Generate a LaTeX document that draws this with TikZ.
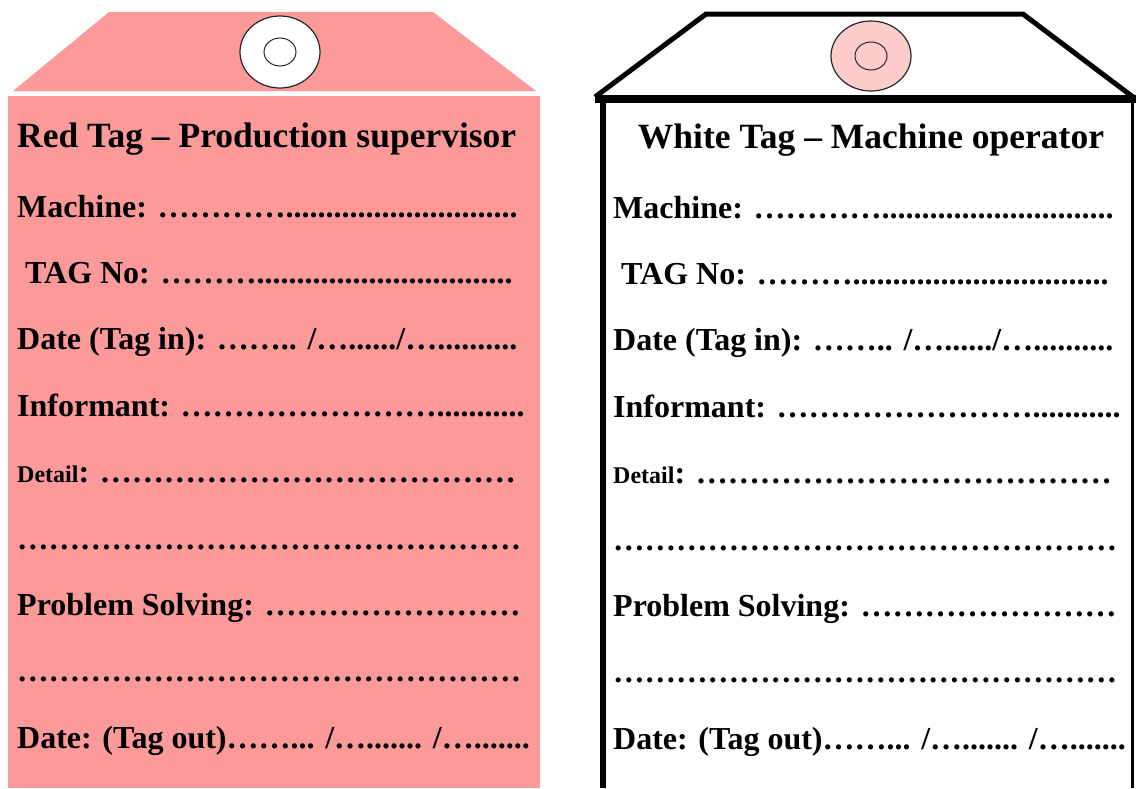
\documentclass[tikz,border=0pt]{standalone}
\usepackage{fontspec}
\setmainfont{Liberation Serif}
\usepackage{tikz}
\usetikzlibrary{positioning}

\definecolor{redtag}{RGB}{252,153,153}
\definecolor{pinkring}{RGB}{255,204,204}
\newcommand{\detailsize}{\fontsize{24}{28}\selectfont}
% n ellipsis characters in a row
\newcommand{\dotrun}[1]{\foreach \k in {1,...,#1}{…}}

\begin{document}
\begin{tikzpicture}[
  x=1pt, y=-1pt,
  node distance=66.4pt,
  tagtitle/.style={font=\fontsize{35.5}{40}\selectfont\bfseries, inner sep=0pt, anchor=base west},
  field/.style={font=\fontsize{32}{36}\selectfont\bfseries, inner sep=0pt, anchor=base west},
  dotline/.style={field, font=\fontsize{31.5}{36}\selectfont\bfseries},
  ring/.style={draw=black!85, line width=1.2pt},
  hole/.style={draw=black!85, line width=1pt}
]
  \useasboundingbox (0,0) rectangle (1136,788);

  % Red tag
  \fill[redtag] (109,12) -- (433,12) -- (536,91) -- (13,91) -- cycle;
  \fill[redtag] (8,96) rectangle (540,788);
  \draw[ring, fill=white] (280,52) ellipse [x radius=40, y radius=36];
  \draw[hole] (280,52) ellipse [x radius=16, y radius=14];

  \node[tagtitle] (rtitle) at (17,147) {Red Tag – Production supervisor};
  \node[field] (rmachine) at (17,217) {Machine: \dotrun{4}..........{}..........{}.........};
  \node[field, below=of rmachine.base west, anchor=base west] (rtagno) {\ TAG No: \dotrun{3}..........{}..........{}..........{}..};
  \node[field, below=of rtagno.base west, anchor=base west] (rdatein) {Date (Tag in): \dotrun{2}.. /\dotrun{1}....../\dotrun{1}..........};
  \node[field, below=of rdatein.base west, anchor=base west] (rinform) {Informant: \dotrun{8}..........{}.};
  \node[field, below=of rinform.base west, anchor=base west] (rdetail) {{\detailsize Detail}: \dotrun{13}};
  \node[dotline, below=of rdetail.base west, anchor=base west] (rline1) {\dotrun{16}};
  \node[field, below=of rline1.base west, anchor=base west] (rsolve) {Problem Solving: \dotrun{8}};
  \node[dotline, below=of rsolve.base west, anchor=base west] (rline2) {\dotrun{16}};
  \node[field, below=of rline2.base west, anchor=base west] (rdateout) {Date: (Tag out)\dotrun{2}... /\dotrun{1}....... /\dotrun{1}.......};

  % White tag
  \filldraw[fill=white, line width=5pt, line join=miter] (595,97) -- (706,14) -- (1023,14) -- (1133,97);
  \draw[line width=8pt] (595,99) -- (1136,99);
  \draw[line width=6pt] (603,95) -- (603,788);
  \draw[line width=3pt] (1132,99) -- (1132,788);
  \draw[ring, fill=pinkring] (871,56) ellipse [x radius=40, y radius=35];
  \draw[hole] (871,56) ellipse [x radius=16, y radius=14];

  \node[tagtitle, anchor=base] (wtitle) at (871,148) {White Tag – Machine operator};
  \node[field] (wmachine) at (613,218) {Machine: \dotrun{4}..........{}..........{}.........};
  \node[field, below=of wmachine.base west, anchor=base west] (wtagno) {\ TAG No: \dotrun{3}..........{}..........{}..........{}..};
  \node[field, below=of wtagno.base west, anchor=base west] (wdatein) {Date (Tag in): \dotrun{2}.. /\dotrun{1}....../\dotrun{1}..........};
  \node[field, below=of wdatein.base west, anchor=base west] (winform) {Informant: \dotrun{8}..........{}.};
  \node[field, below=of winform.base west, anchor=base west] (wdetail) {{\detailsize Detail}: \dotrun{13}};
  \node[dotline, below=of wdetail.base west, anchor=base west] (wline1) {\dotrun{16}};
  \node[field, below=of wline1.base west, anchor=base west] (wsolve) {Problem Solving: \dotrun{8}};
  \node[dotline, below=of wsolve.base west, anchor=base west] (wline2) {\dotrun{16}};
  \node[field, below=of wline2.base west, anchor=base west] (wdateout) {Date: (Tag out)\dotrun{2}... /\dotrun{1}....... /\dotrun{1}.......};
\end{tikzpicture}
\end{document}
